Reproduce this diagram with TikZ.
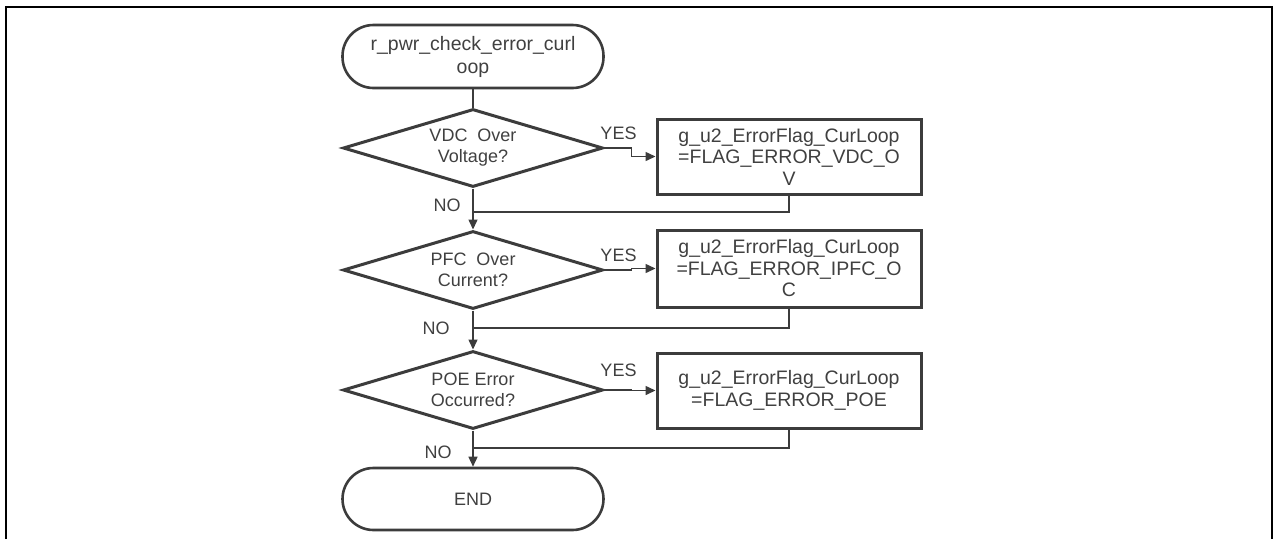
\documentclass[tikz,border=0pt]{standalone}
\usepackage{fontspec}
\setmainfont{Liberation Sans}
\usetikzlibrary{shapes.geometric,arrows.meta}

\definecolor{ink}{HTML}{3C3C3C}
\definecolor{txt}{HTML}{404040}

\tikzset{
  terminal/.style={draw=ink, line width=2.6pt, rounded corners=31pt,
    minimum width=261pt, minimum height=63pt, inner sep=0pt,
    text=txt, align=center},
  decision/.style={diamond, draw=ink, line width=3pt, aspect=3.33,
    minimum width=260pt, minimum height=78pt, inner sep=0pt,
    text=txt, align=center, font=\fontsize{18}{21}\selectfont},
  process/.style={draw=ink, line width=3pt, minimum width=264pt,
    inner sep=0pt, text=txt, align=center,
    font=\fontsize{19.5}{21.5}\selectfont},
  conn/.style={draw=ink, line width=1.5pt},
  flow/.style={conn, -{Triangle[length=10pt,width=9pt]}},
  lbl/.style={text=txt, inner sep=0pt, font=\fontsize{18}{20}\selectfont},
}

\begin{document}
\begin{tikzpicture}[x=1pt,y=-1pt]
\useasboundingbox (0,0) rectangle (1274,539);

% outer frame (open at the bottom)
\draw[line width=2pt, black] (5.5,539) -- (5.5,6.5) -- (1271.5,6.5) -- (1271.5,539);

% start / end terminals
\node[terminal, font=\fontsize{19.5}{23}\selectfont] (start) at (473,56.5)
  {r\_pwr\_check\_error\_curl\\oop};
\node[terminal, minimum height=62pt, font=\fontsize{18}{20}\selectfont] (end) at (473,499) {END};

% decisions
\node[decision] (d1) at (473,148) {VDC\ \ Over\\Voltage?};
\node[decision] (d2) at (473,270) {PFC\ \ Over\\Current?};
\node[decision] (d3) at (473,390) {POE Error\\Occurred?};

% error flag assignments
\node[process, minimum height=75pt] (b1) at (789,156.5)
  {g\_u2\_ErrorFlag\_CurLoop\\=FLAG\_ERROR\_VDC\_O\\V};
\node[process, minimum height=77pt] (b2) at (789,268.5)
  {g\_u2\_ErrorFlag\_CurLoop\\=FLAG\_ERROR\_IPFC\_O\\C};
\node[process, minimum height=75pt] (b3) at (789,390.5)
  {g\_u2\_ErrorFlag\_CurLoop\\=FLAG\_ERROR\_POE};

% join points where the YES branches return
\coordinate (j1) at (473,212);
\coordinate (j2) at (473,328);
\coordinate (j3) at (473,448);

% main flow (NO branches)
\draw[conn] (start.south) -- (d1.north);
\draw[flow] (d1.south) -- (d2.north);
\draw[flow] (d2.south) -- (d3.north);
\draw[flow] (d3.south) -- (end.north);

% YES branches
\draw[flow] (d1.east) -- ++(27,0) |- (b1.west);
\draw[flow] (d2.east) -- ++(27,0) |- (b2.west);
\draw[flow] (d3.east) -- ++(27,0) |- (b3.west);

% returns to the main flow
\draw[conn] (b1.south) |- (j1);
\draw[conn] (b2.south) |- (j2);
\draw[conn] (b3.south) |- (j3);

% branch labels
\node[lbl] (y1) at (618.5,133) {YES};
\node[lbl] (y2) at (618.5,255) {YES};
\node[lbl] (y3) at (618.5,370) {YES};
\node[lbl] (n1) at (447,205) {NO};
\node[lbl] (n2) at (436,328) {NO};
\node[lbl] (n3) at (438,452) {NO};
\end{tikzpicture}
\end{document}
